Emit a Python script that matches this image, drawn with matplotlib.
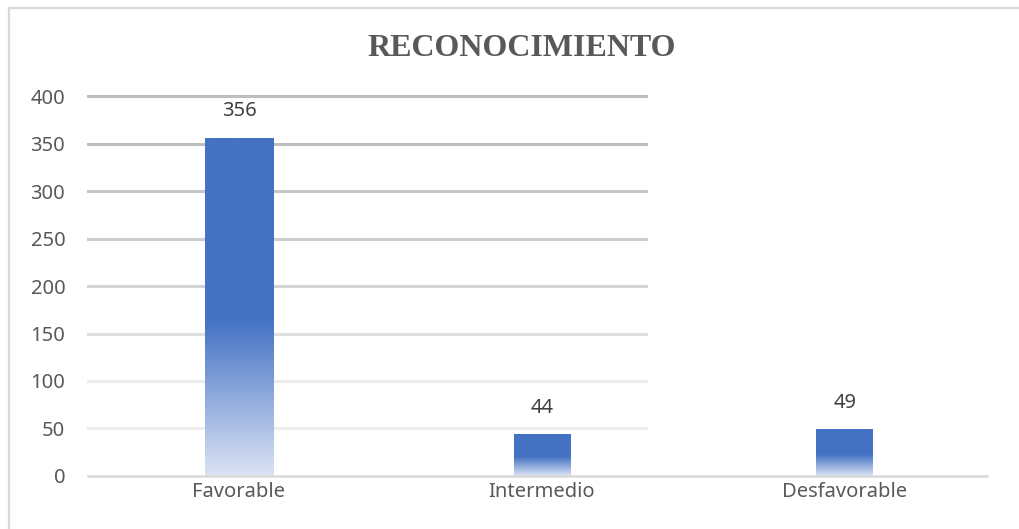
import numpy as np
import matplotlib.pyplot as plt
from matplotlib.colors import LinearSegmentedColormap
from matplotlib.patches import Rectangle

categorias = ['Favorable', 'Intermedio', 'Desfavorable']
valores = [356, 44, 49]
anchos = [0.225, 0.185, 0.188]
yticks = [0, 50, 100, 150, 200, 250, 300, 350, 400]
# gridline greys fade out towards the bottom
grid_colores = ['#d9d9d9', '#eeeeee', '#ececec', '#e0e0e0', '#d3d3d3',
                '#cdcdcd', '#c6c6c6', '#bfbfbf', '#bfbfbf']

plt.rcParams['font.family'] = ['Noto Sans', 'DejaVu Sans']

fig = plt.figure(figsize=(10.2, 5.29), dpi=100)
ax = fig.add_axes([0.0858, 0.1002, 0.891, 0.7183])

# outer chart frame (only left and top edges fall inside the image)
fig.add_artist(Rectangle((9 / 1020, -0.2), 1.2, 0.2 + 1 - 8 / 529,
                         transform=fig.transFigure, fill=False,
                         edgecolor='#d9d9d9', linewidth=1.6))

x = np.arange(len(categorias))
barras = ax.bar(x, valores, width=anchos, color='#4472C4', zorder=3)

# vertical gradient: light at the base, solid blue from ~46% of the height up
cmap = LinearSegmentedColormap.from_list('azul', ['#dbe3f4', '#4472C4'])
grad = np.clip(np.linspace(0, 1, 256) / 0.46, 0, 1).reshape(-1, 1)
for b in barras:
    bx, by = b.get_x(), b.get_y()
    w, h = b.get_width(), b.get_height()
    im = ax.imshow(grad, cmap=cmap, origin='lower', aspect='auto',
                   extent=[bx, bx + w, by, by + h], zorder=4,
                   interpolation='bicubic')
    im.set_clip_path(b)

# gridlines stop part way across, baseline spans full width
ytr = ax.get_yaxis_transform()
for yv, c in zip(yticks, grid_colores):
    if yv == 0:
        ax.plot([0, 0.99], [yv, yv], transform=ytr, color=c, lw=1.8,
                zorder=5, clip_on=False)
    else:
        ax.plot([0, 0.615], [yv, yv], transform=ytr, color=c, lw=2.2,
                zorder=1, clip_on=False)

for xi, v in zip(x, valores):
    ax.annotate(str(v), (xi, v), xytext=(0, 19), textcoords='offset points',
                ha='center', va='center', fontsize=14.5, color='#404040')

ax.set_xlim(-0.5, 2.5)
ax.set_ylim(0, 400)
ax.set_yticks(yticks)
ax.set_xticks(x)
ax.set_xticklabels(categorias)
ax.tick_params(axis='both', length=0, labelsize=14.5, labelcolor='#595959')
ax.tick_params(axis='y', pad=16)
ax.tick_params(axis='x', pad=4)
for s in ax.spines.values():
    s.set_visible(False)

fig.text(0.511, 0.909, 'RECONOCIMIENTO', ha='center', va='center',
         family='Liberation Serif', fontweight='bold', fontsize=23,
         color='#595959')

fig.savefig('out.png', dpi=100)
